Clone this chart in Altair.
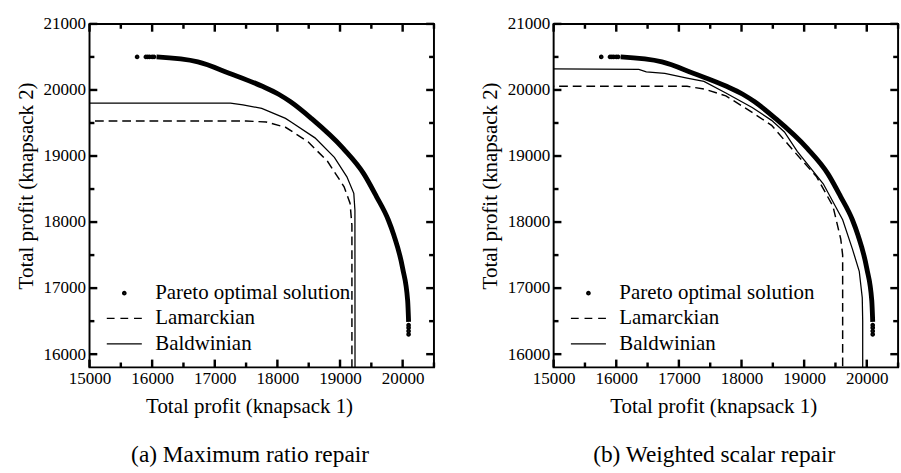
import altair as alt
import pandas as pd

FONT = "'Liberation Serif', 'Times New Roman', Times, serif"
W, H = 354, 353

# Pareto-optimal front, read along the centre of the dense band of solutions
front_k1 = [16070, 16730, 17240, 17760, 18020, 18210, 18540, 19050, 19380, 19580, 19770, 19860, 20000, 20080, 20095]
front_k2 = [20500, 20425, 20250, 20055, 19935, 19820, 19570, 19115, 18730, 18390, 18035, 17800, 17300, 16810, 16490]
# separate solutions at both ends of the front
end_k1 = [15760, 15900, 15930, 15960, 16000, 16030, 20095, 20095, 20095, 20095]
end_k2 = [20500, 20500, 20500, 20500, 20500, 20500, 16440, 16400, 16350, 16300]

# (a) maximum ratio repair
a_lam_k1 = [14000, 17500, 17820, 18130, 18490, 18800, 19065, 19160, 19190, 19190]
a_lam_k2 = [19530, 19530, 19515, 19435, 19215, 18920, 18535, 18285, 17950, 15000]
a_bal_k1 = [14000, 17250, 17450, 17750, 18130, 18225, 18600, 18910, 19110, 19220, 19238, 19240]
a_bal_k2 = [19800, 19800, 19775, 19720, 19570, 19510, 19275, 18980, 18685, 18435, 18180, 15000]

# (b) weighted scalar repair
b_lam_k1 = [14000, 17130, 17400, 17750, 18170, 18480, 18840, 19200, 19460, 19585, 19615, 19615]
b_lam_k2 = [20055, 20055, 20015, 19910, 19660, 19465, 19070, 18685, 18240, 17740, 17500, 15000]
b_bal_k1 = [14000, 16360, 16480, 16775, 17130, 17400, 17750, 18170, 18480, 18685, 18890, 19305, 19615, 19770, 19880, 19928, 19935, 19935]
b_bal_k2 = [20325, 20310, 20275, 20250, 20180, 20130, 19955, 19735, 19540, 19365, 19070, 18580, 18035, 17595, 17255, 16855, 16500, 15000]

# axis ticks and labels
x_labels = [15000, 16000, 17000, 18000, 19000, 20000]
y_labels = [16000, 17000, 18000, 19000, 20000, 21000]
x_major = [15000, 16000, 17000, 18000, 19000, 20000]
x_minor = [15500, 16500, 17500, 18500, 19500, 20500]
y_major = [16000, 17000, 18000, 19000, 20000, 21000]
y_minor = [16500, 17500, 18500, 19500, 20500]

series = ["Pareto optimal solution", "Lamarckian", "Baldwinian"]

# symbol paths for the shape scale (points and legend entries, drawn as strokes)
DOT = ("M-0.35,0A0.35,0.35,0,1,0,0.35,0A0.35,0.35,0,1,0,-0.35,0Z"
       "M-0.17,0A0.17,0.17,0,1,0,0.17,0A0.17,0.17,0,1,0,-0.17,0Z"
       "M-0.04,0A0.04,0.04,0,1,0,0.04,0A0.04,0.04,0,1,0,-0.04,0Z")
DASHED = "M-3.6,0H-2.0M-0.8,0H0.8M2.0,0H3.6"
SOLID = "M-3.6,0H3.6"

MAJOR, MINOR = 8, 5
TICK_W = 2.5

xs = alt.Scale(domain=[15000, 20500], nice=False, zero=False)
ys = alt.Scale(domain=[15800, 21000], nice=False, zero=False)

x_axis = alt.Axis(values=x_labels, format="d", ticks=False, domain=False, grid=False,
                  labelFont=FONT, labelFontSize=17.5, labelColor="black", labelPadding=3,
                  labelFlush=False, labelOverlap=False,
                  titleFont=FONT, titleFontSize=21.5, titleFontWeight="normal", titleColor="black",
                  titleX=164, titlePadding=9)
y_axis = alt.Axis(values=y_labels, format="d", ticks=False, domain=False, grid=False,
                  labelFont=FONT, labelFontSize=17.5, labelColor="black", labelPadding=4,
                  labelFlush=False, labelOverlap=False,
                  titleFont=FONT, titleFontSize=21.5, titleFontWeight="normal", titleColor="black",
                  titleX=-54, titleY=166)


def x_ticks(vals, length):
    # inward ticks on the bottom and top frame edges
    d = pd.DataFrame({"v": vals})
    base = alt.Chart(d).mark_rule(color="black", strokeWidth=TICK_W, opacity=1)
    bottom = base.encode(x=alt.X("v:Q", scale=xs), y=alt.value(H), y2=alt.value(H - length))
    top = base.encode(x=alt.X("v:Q", scale=xs), y=alt.value(0), y2=alt.value(length))
    return [bottom, top]


def y_ticks(vals, length):
    # inward ticks on the left and right frame edges
    d = pd.DataFrame({"v": vals})
    base = alt.Chart(d).mark_rule(color="black", strokeWidth=TICK_W, opacity=1)
    left = base.encode(y=alt.Y("v:Q", scale=ys), x=alt.value(0), x2=alt.value(length))
    right = base.encode(y=alt.Y("v:Q", scale=ys), x=alt.value(W), x2=alt.value(W - length))
    return [left, right]


def panel(lam_k1, lam_k2, bal_k1, bal_k2, caption):
    front = pd.DataFrame({"k1": front_k1, "k2": front_k2})
    ends = pd.DataFrame({"k1": end_k1, "k2": end_k2, "series": series[0]})
    lam = pd.DataFrame({"k1": lam_k1, "k2": lam_k2, "i": list(range(len(lam_k1)))})
    bal = pd.DataFrame({"k1": bal_k1, "k2": bal_k2, "i": list(range(len(bal_k1)))})

    legend = alt.Legend(orient="none", legendX=25, legendY=266, title=None,
                        labelFont=FONT, labelFontSize=21.5, labelColor="black", labelLimit=0,
                        symbolSize=100, symbolStrokeWidth=1.3, symbolStrokeColor="black",
                        symbolOpacity=1, labelOffset=21, rowPadding=3, padding=0)
    shape = alt.Shape("series:N", scale=alt.Scale(domain=series, range=[DOT, DASHED, SOLID]), legend=legend)

    front_line = alt.Chart(front).mark_line(
        color="black", strokeWidth=5, interpolate="monotone", clip=True
    ).encode(
        x=alt.X("k1:Q", scale=xs, axis=x_axis, title="Total profit (knapsack 1)"),
        y=alt.Y("k2:Q", scale=ys, axis=y_axis, title="Total profit (knapsack 2)"),
    )

    end_dots = alt.Chart(ends).mark_point(
        filled=False, color="black", strokeWidth=1.3, size=100, opacity=1, clip=True
    ).encode(
        x=alt.X("k1:Q", scale=xs),
        y=alt.Y("k2:Q", scale=ys),
        shape=shape,
    )

    lam_line = alt.Chart(lam).mark_line(
        color="black", strokeWidth=1.5, strokeDash=[9, 5], clip=True
    ).encode(
        x=alt.X("k1:Q", scale=xs),
        y=alt.Y("k2:Q", scale=ys),
        order="i:Q",
    )

    bal_line = alt.Chart(bal).mark_line(
        color="black", strokeWidth=1.3, clip=True
    ).encode(
        x=alt.X("k1:Q", scale=xs),
        y=alt.Y("k2:Q", scale=ys),
        order="i:Q",
    )

    ticks = x_ticks(x_major, MAJOR) + x_ticks(x_minor, MINOR) + y_ticks(y_major, MAJOR) + y_ticks(y_minor, MINOR)

    return alt.layer(front_line, end_dots, lam_line, bal_line, *ticks).properties(
        width=W, height=H,
        title=alt.TitleParams(caption, orient="bottom", anchor="middle", frame="group",
                              font=FONT, fontSize=24, fontWeight="normal", color="black",
                              offset=27, dx=-12),
    )


chart = alt.hconcat(
    panel(a_lam_k1, a_lam_k2, a_bal_k1, a_bal_k2, "(a) Maximum ratio repair"),
    panel(b_lam_k1, b_lam_k2, b_bal_k1, b_bal_k2, "(b) Weighted scalar repair"),
    spacing=43,
).resolve_scale(shape="independent").resolve_legend(shape="independent").properties(
    padding={"left": 15, "top": 8, "right": 0, "bottom": 0},
    background="white",
).configure_view(stroke="black", strokeWidth=2)

chart.save("out.html", embed_options={"renderer": "svg", "actions": False})
